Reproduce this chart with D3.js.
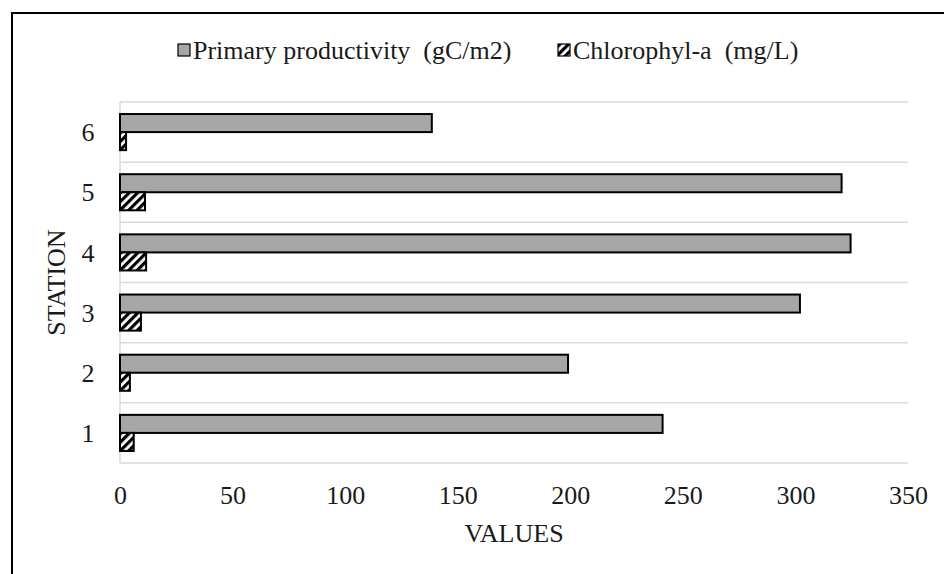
<!DOCTYPE html>
<html>
<head>
<meta charset="utf-8">
<script src="https://cdn.jsdelivr.net/npm/d3@7"></script>
<style>
  body { margin: 0; background: #fff; }
  svg text { font-family: "Liberation Serif", "Times New Roman", "DejaVu Serif", serif; fill: #1a1a1a; }
</style>
</head>
<body>
<div id="wrapper"></div>
<script>
// chart values
const stations = ["6", "5", "4", "3", "2", "1"];
const seriesNames = ["Primary productivity  (gC/m2)", "Chlorophyl-a  (mg/L)"];
const primaryProductivity = [138.5, 320.5, 324.5, 302, 199, 241];
const chlorophyllA = [2.7, 11.1, 11.6, 9.3, 4.4, 6.1];
const xTicks = [0, 50, 100, 150, 200, 250, 300, 350];

const data = stations.map((s, i) => ({
    station: s,
    values: [
        { key: seriesNames[0], value: primaryProductivity[i] },
        { key: seriesNames[1], value: chlorophyllA[i] }
    ]
}));

const dimension = {
    width: 944,
    height: 574,
    margin: { top: 102, left: 120, bottom: 111, right: 36 }
};
dimension.boundedWidth = dimension.width - dimension.margin.left - dimension.margin.right;
dimension.boundedHeight = dimension.height - dimension.margin.top - dimension.margin.bottom;

const svg = d3.select("#wrapper").append("svg")
    .attr("width", dimension.width)
    .attr("height", dimension.height);

// hatch for chlorophyll
const defs = svg.append("defs");
defs.append("pattern")
    .attr("id", "hatch")
    .attr("patternUnits", "userSpaceOnUse")
    .attr("width", 6)
    .attr("height", 6)
    .attr("patternTransform", "rotate(45)")
    .call(p => {
        p.append("rect").attr("width", 6).attr("height", 6).attr("fill", "#fff");
        p.append("rect").attr("width", 3.2).attr("height", 6).attr("fill", "#000");
    });

const fills = { [seriesNames[0]]: "#a6a6a6", [seriesNames[1]]: "url(#hatch)" };

// outer frame (only left/top visible)
svg.append("rect")
    .attr("x", 12).attr("y", 13)
    .attr("width", 1000).attr("height", 1000)
    .attr("fill", "none")
    .attr("stroke", "#000")
    .attr("stroke-width", 2);

const bounded = svg.append("g")
    .attr("transform", `translate(${dimension.margin.left},${dimension.margin.top})`);

const xScaler = d3.scaleLinear()
    .domain([0, 350])
    .range([0, dimension.boundedWidth]);

const yScaler = d3.scaleBand()
    .domain(stations)
    .range([0, dimension.boundedHeight])
    .paddingInner(0.4)
    .paddingOuter(0.2);

const ySub = d3.scaleBand()
    .domain(seriesNames)
    .range([0, yScaler.bandwidth()]);

const step = yScaler.step();

// gridlines at category boundaries
const gridY = d3.range(stations.length + 1).map(i => i * step);
bounded.append("g").selectAll("line")
    .data(gridY)
    .join("line")
    .attr("x1", 0)
    .attr("x2", dimension.boundedWidth)
    .attr("y1", d => d)
    .attr("y2", d => d)
    .attr("stroke", "#d9d9d9")
    .attr("stroke-width", 1.5);

// left axis line
bounded.append("line")
    .attr("x1", 0).attr("x2", 0)
    .attr("y1", 0).attr("y2", dimension.boundedHeight)
    .attr("stroke", "#d9d9d9")
    .attr("stroke-width", 1.5);

// bars
const groups = bounded.selectAll(".station")
    .data(data)
    .join("g")
    .attr("class", "station")
    .attr("transform", d => `translate(0,${yScaler(d.station)})`);

groups.selectAll("rect")
    .data(d => d.values)
    .join("rect")
    .attr("x", xScaler(0))
    .attr("y", d => ySub(d.key))
    .attr("width", d => xScaler(d.value) - xScaler(0))
    .attr("height", ySub.bandwidth())
    .attr("fill", d => fills[d.key])
    .attr("stroke", "#000")
    .attr("stroke-width", 2);

// x axis
const xAxis = d3.axisBottom(xScaler)
    .tickValues(xTicks)
    .tickSize(0)
    .tickPadding(0);

const xAxisGroup = bounded.append("g")
    .attr("transform", `translate(0,${dimension.boundedHeight})`)
    .call(xAxis);
xAxisGroup.attr("font-family", null);
xAxisGroup.select(".domain").remove();
xAxisGroup.selectAll("text")
    .attr("y", 41)
    .attr("dy", null)
    .attr("font-size", 26);

// y axis
const yAxis = d3.axisLeft(yScaler)
    .tickSize(0)
    .tickPadding(0);

const yAxisGroup = bounded.append("g").call(yAxis);
yAxisGroup.attr("font-family", null);
yAxisGroup.select(".domain").remove();
yAxisGroup.selectAll("text")
    .attr("x", -32)
    .attr("text-anchor", "middle")
    .attr("dy", "0.35em")
    .attr("font-size", 26);

// axis titles
svg.append("text")
    .attr("x", dimension.margin.left + dimension.boundedWidth / 2)
    .attr("y", 542)
    .attr("text-anchor", "middle")
    .attr("font-size", 26)
    .text("VALUES");

svg.append("text")
    .attr("transform", `translate(65,${dimension.margin.top + dimension.boundedHeight / 2}) rotate(-90)`)
    .attr("text-anchor", "middle")
    .attr("font-size", 26)
    .text("STATION");

// legend
const legendItems = [
    { key: seriesNames[0], x: 178 },
    { key: seriesNames[1], x: 558 }
];
const legend = svg.append("g");
const item = legend.selectAll("g")
    .data(legendItems)
    .join("g")
    .attr("transform", d => `translate(${d.x},44)`);
item.append("rect")
    .attr("width", 12)
    .attr("height", 12)
    .attr("fill", d => fills[d.key])
    .attr("stroke", "#000")
    .attr("stroke-width", 1.2);
item.append("text")
    .attr("x", 15)
    .attr("y", 15)
    .attr("font-size", 26)
    .style("white-space", "pre")
    .text(d => d.key);
</script>
</body>
</html>
